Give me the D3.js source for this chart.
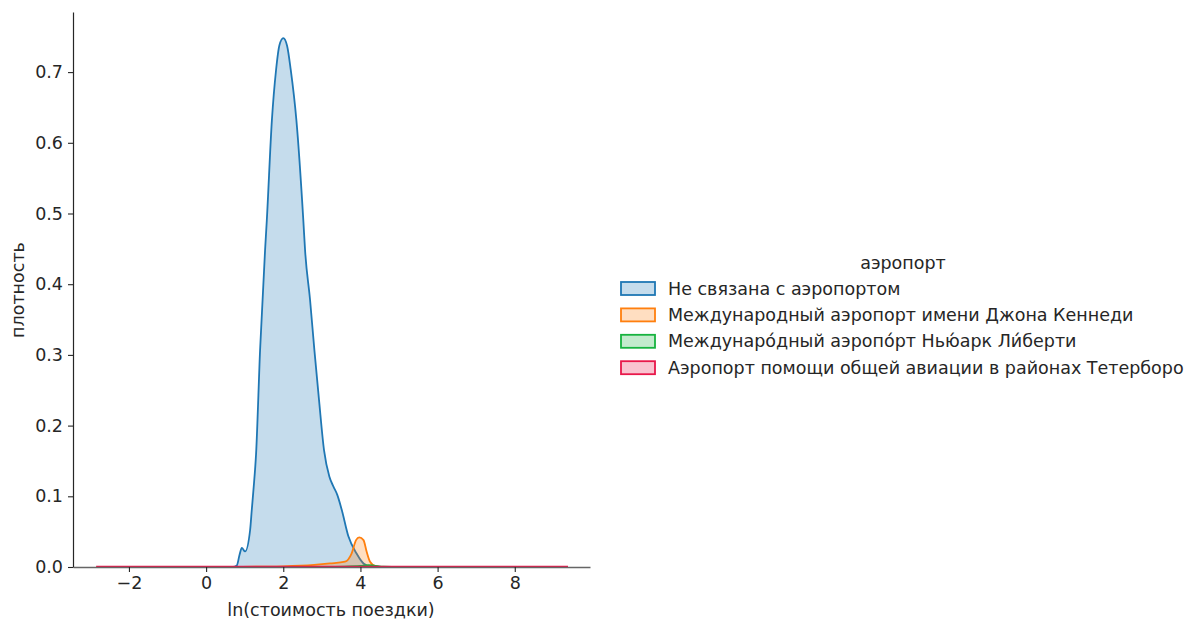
<!DOCTYPE html>
<html>
<head>
<meta charset="utf-8">
<script src="https://cdn.jsdelivr.net/npm/d3@7"></script>
<style>
  body { margin: 0; background: #fff; }
  svg text { font-family: "DejaVu Sans", sans-serif; fill: #262626; }
</style>
</head>
<body>
<svg id="chart" width="1189" height="620"></svg>
<script>
// categories and colours (legend order)
const airports = [
  "Не связана с аэропортом",
  "Международный аэропорт имени Джона Кеннеди",
  "Междунаро́дный аэропо́рт Нью́арк Ли́берти",
  "Аэропорт помощи общей авиации в районах Тетерборо"
];
const colors = ["#1f77b4", "#ff7f0e", "#17b33f", "#e8174a"];

// density curves: [ln(fare), density]
const noAirport = [
  [0.0, 0], [0.70, 0], [0.795, 0.002], [0.87, 0.018], [0.925, 0.027], [1.01, 0.022],
  [1.14, 0.052], [1.184, 0.081], [1.227, 0.109], [1.295, 0.16], [1.399, 0.307], [1.528, 0.448],
  [1.573, 0.49], [1.705, 0.632], [1.813, 0.703], [1.9, 0.738], [2.0, 0.748], [2.1, 0.737],
  [2.194, 0.703], [2.34, 0.632], [2.52, 0.49], [2.565, 0.448], [2.694, 0.378], [2.806, 0.307],
  [2.927, 0.236], [3.057, 0.165], [3.194, 0.128], [3.298, 0.114], [3.40, 0.102], [3.515, 0.081],
  [3.69, 0.043], [3.90, 0.019], [4.08, 0.005], [4.3, 0.0], [5.0, 0]
];
const jfk = [
  [0.45, 0], [1.5, 0.0005], [2.0, 0.001], [2.8, 0.003], [3.21, 0.005], [3.6, 0.0075],
  [3.77, 0.019], [3.886, 0.038], [3.97, 0.042], [4.08, 0.038], [4.16, 0.022],
  [4.25, 0.0075], [4.4, 0.001], [4.6, 0]
];
const newark = [
  [3.0, 0], [3.6, 0.0005], [4.0, 0.0015], [4.2, 0.0025], [4.35, 0.002], [4.6, 0.0005], [5.1, 0]
];
const teterboro = [
  [-2.85, 0.0004], [0, 0.0005], [3, 0.0006], [6, 0.0005], [9.38, 0.0004]
];
const series = [noAirport, jfk, newark, teterboro];

const xTicks = [-2, 0, 2, 4, 6, 8];
const yTicks = [0.0, 0.1, 0.2, 0.3, 0.4, 0.5, 0.6, 0.7];

const FS = 17.5;
const svg = d3.select("#chart");
const x = d3.scaleLinear().domain([-3.45, 9.95]).range([73, 590]);
const y = d3.scaleLinear().domain([0, 0.785]).range([567, 12]);

// density areas
const area = d3.area().x(d => x(d[0])).y0(y(0)).y1(d => y(d[1])).curve(d3.curveMonotoneX);
const line = d3.line().x(d => x(d[0])).y(d => y(d[1])).curve(d3.curveMonotoneX);
const layers = svg.append("g").selectAll("g").data(series).join("g");
layers.append("path").attr("d", d => area(d)).attr("fill", (d, i) => colors[i]).attr("fill-opacity", 0.26);
layers.append("path").attr("d", d => line(d)).attr("fill", "none").attr("stroke", (d, i) => colors[i]).attr("stroke-width", 1.8);

// axes
const fmt = d => d < 0 ? "\u2212" + Math.abs(d) : String(d);
const xAxis = svg.append("g").attr("transform", `translate(0,${y(0)})`)
  .call(d3.axisBottom(x).tickValues(xTicks).tickFormat(fmt).tickSize(5).tickSizeOuter(0).tickPadding(5));
const yAxis = svg.append("g").attr("transform", `translate(${x.range()[0]},0)`)
  .call(d3.axisLeft(y).tickValues(yTicks).tickFormat(d3.format(".1f")).tickSize(5).tickSizeOuter(0).tickPadding(5));
[xAxis, yAxis].forEach(a => {
  a.selectAll("text").attr("font-size", FS).attr("font-family", "DejaVu Sans").attr("fill", "#262626");
  a.selectAll("line").attr("stroke", "#262626").attr("stroke-width", 1.1);
});
xAxis.select(".domain").attr("stroke", "#666").attr("stroke-width", 1.6);
yAxis.select(".domain").attr("stroke", "#262626").attr("stroke-width", 1.2);

svg.append("text").attr("x", 331).attr("y", 616).attr("text-anchor", "middle").attr("font-size", FS)
  .text("ln(стоимость поездки)");
svg.append("text").attr("transform", "translate(24,290) rotate(-90)").attr("text-anchor", "middle").attr("font-size", FS)
  .text("плотность");

// legend
const legend = svg.append("g").attr("transform", "translate(620,0)");
legend.append("text").attr("x", 283).attr("y", 269).attr("text-anchor", "middle").attr("font-size", FS).text("аэропорт");
const items = legend.selectAll("g.item").data(airports).join("g").attr("class", "item")
  .attr("transform", (d, i) => `translate(0,${288.5 + i * 26.4})`);
items.append("rect").attr("x", 1).attr("y", -6.5).attr("width", 34).attr("height", 13)
  .attr("fill", (d, i) => colors[i]).attr("fill-opacity", 0.26)
  .attr("stroke", (d, i) => colors[i]).attr("stroke-width", 1.8);
items.append("text").attr("x", 48).attr("dy", "0.35em").attr("font-size", FS).text(d => d);
</script>
</body>
</html>
